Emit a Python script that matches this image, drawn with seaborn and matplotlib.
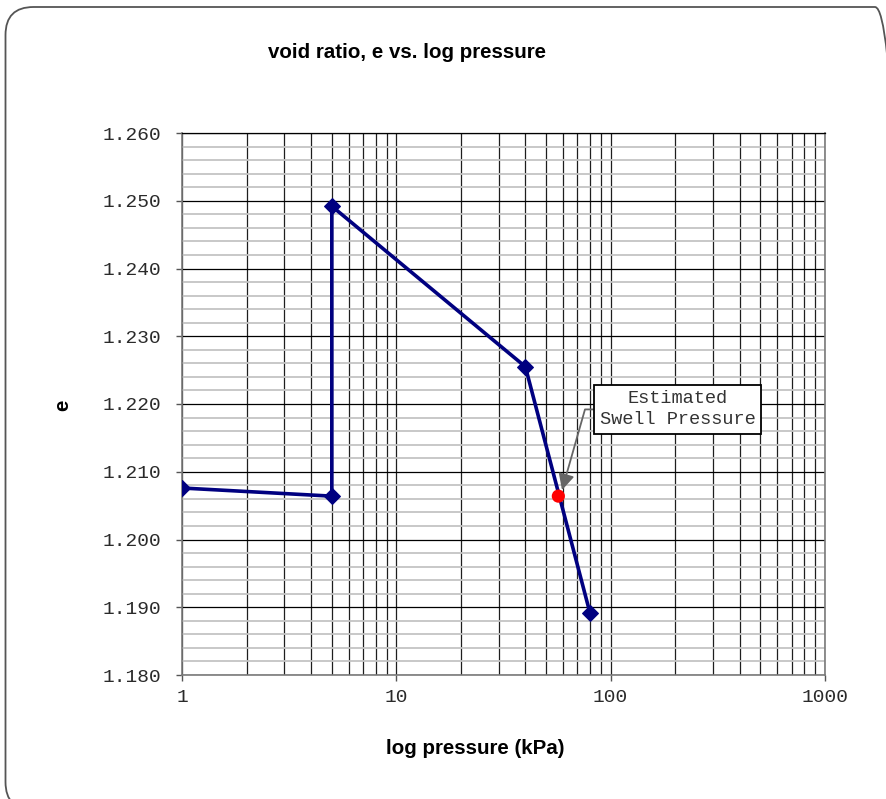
import numpy as np
import pandas as pd
import matplotlib
matplotlib.use("Agg")
import matplotlib.pyplot as plt
import seaborn as sns
from matplotlib.patches import FancyBboxPatch
from matplotlib.transforms import IdentityTransform
from matplotlib.ticker import LogLocator, FixedLocator, NullFormatter, FuncFormatter

# Consolidation test readings
pressure_kpa = [1, 5, 5, 40, 80]
void_ratio = [1.2076, 1.2064, 1.2492, 1.2255, 1.1892]

# Estimated swell pressure point
swell_pressure = [57]
swell_void_ratio = [1.2064]

title_text = "void ratio, e vs. log pressure"
x_label = "log pressure (kPa)"
y_label = "e"
callout_text = "Estimated\nSwell Pressure"
y_major_ticks = [1.18, 1.19, 1.20, 1.21, 1.22, 1.23, 1.24, 1.25, 1.26]
x_major_ticks = [1, 10, 100, 1000]

sns.set_theme(style="white")
plt.rcParams["font.family"] = ["Liberation Sans", "DejaVu Sans"]

W, H = 887, 799
fig = plt.figure(figsize=(W / 100, H / 100), dpi=100)
ax = fig.add_axes([182 / W, 1 - 675 / H, (825 - 182) / W, (675 - 133) / H])

df = pd.DataFrame({"p": pressure_kpa, "e": void_ratio})
sw = pd.DataFrame({"p": swell_pressure, "e": swell_void_ratio})

ax.set_xscale("log")
ax.set_xlim(1, 1000)
ax.set_ylim(1.18, 1.26)

# grid: light minor horizontals, dark majors, dark verticals at every 1..9
ax.yaxis.set_major_locator(FixedLocator(y_major_ticks))
ax.yaxis.set_minor_locator(FixedLocator(np.arange(1.18, 1.2601, 0.002)))
ax.xaxis.set_major_locator(FixedLocator(x_major_ticks))
ax.xaxis.set_minor_locator(LogLocator(base=10, subs=np.arange(2, 10)))
ax.xaxis.set_minor_formatter(NullFormatter())
ax.grid(which="minor", axis="y", color="#c4c4c4", lw=1.3, zorder=0)
ax.grid(which="major", axis="y", color="#000000", lw=0.9, zorder=1)
ax.grid(which="both", axis="x", color="#1e1e1e", lw=0.9, zorder=1)
ax.set_axisbelow(True)

sns.lineplot(data=df, x="p", y="e", sort=False, estimator=None, ax=ax,
             color="#000080", lw=2.6, marker="D", markersize=8.5,
             markeredgecolor="#000080", markerfacecolor="#000080", zorder=3)
sns.scatterplot(data=sw, x="p", y="e", ax=ax, color="#ff0000", s=90,
                edgecolor="none", zorder=4)

ax.set_xlabel("")
ax.set_ylabel("")

mono = ["Liberation Mono", "DejaVu Sans Mono"]
ax.yaxis.set_major_formatter(FuncFormatter(lambda v, _: f"{v:.3f}"))
ax.xaxis.set_major_formatter(FuncFormatter(lambda v, _: f"{v:g}"))
ax.tick_params(axis="y", which="major", direction="out", length=4, width=1,
               color="#555555", pad=11, labelsize=14, labelcolor="#2a2a2a",
               left=True)
ax.tick_params(axis="y", which="minor", length=0)
ax.tick_params(axis="x", which="major", direction="out", length=4, width=1,
               color="#555555", pad=6, labelsize=14, labelcolor="#2a2a2a",
               bottom=True)
ax.tick_params(axis="x", which="minor", length=0)
for lab in ax.get_xticklabels() + ax.get_yticklabels():
    lab.set_family(mono)

for s in ax.spines.values():
    s.set_color("#7a7a7a")
    s.set_linewidth(1.2)
ax.spines["top"].set_color("#000000")
ax.spines["top"].set_linewidth(0.9)

# callout with elbow leader
ax.annotate("", xy=(59.3, 1.2073), xytext=(82.7, 1.2192),
            arrowprops=dict(arrowstyle="-|>,head_length=0.8,head_width=0.4",
                            connectionstyle="arc,angleA=180,armA=8,angleB=0,armB=0,rad=0",
                            color="#666666", lw=1.3, shrinkA=0, shrinkB=0),
            zorder=5)
ax.text(205, 1.2192, callout_text, ha="center", va="center", fontsize=13.4,
        family=mono, color="#333333", linespacing=1.3, zorder=6,
        bbox=dict(boxstyle="square,pad=0.3", fc="white", ec="#000000", lw=1.3))

fig.text(407 / W, 1 - 52 / H, title_text, ha="center", va="center",
         fontsize=14.8, fontweight="bold", color="black")
fig.text(475 / W, 1 - 748 / H, x_label, ha="center", va="center",
         fontsize=14.8, fontweight="bold", color="black")
fig.text(63 / W, 1 - 405 / H, y_label, ha="center", va="center",
         fontsize=14.8, fontweight="bold", color="black", rotation=90)

# rounded outer frame, in pixel units so the corners stay circular
frame = FancyBboxPatch((5.5, H - 810), 903 - 5.5, 810 - 7,
                       boxstyle="round,pad=0,rounding_size=28",
                       transform=IdentityTransform(), fill=False,
                       ec="#555555", lw=1.3, zorder=10)
fig.patches.append(frame)

fig.savefig("out.png", dpi=100)
